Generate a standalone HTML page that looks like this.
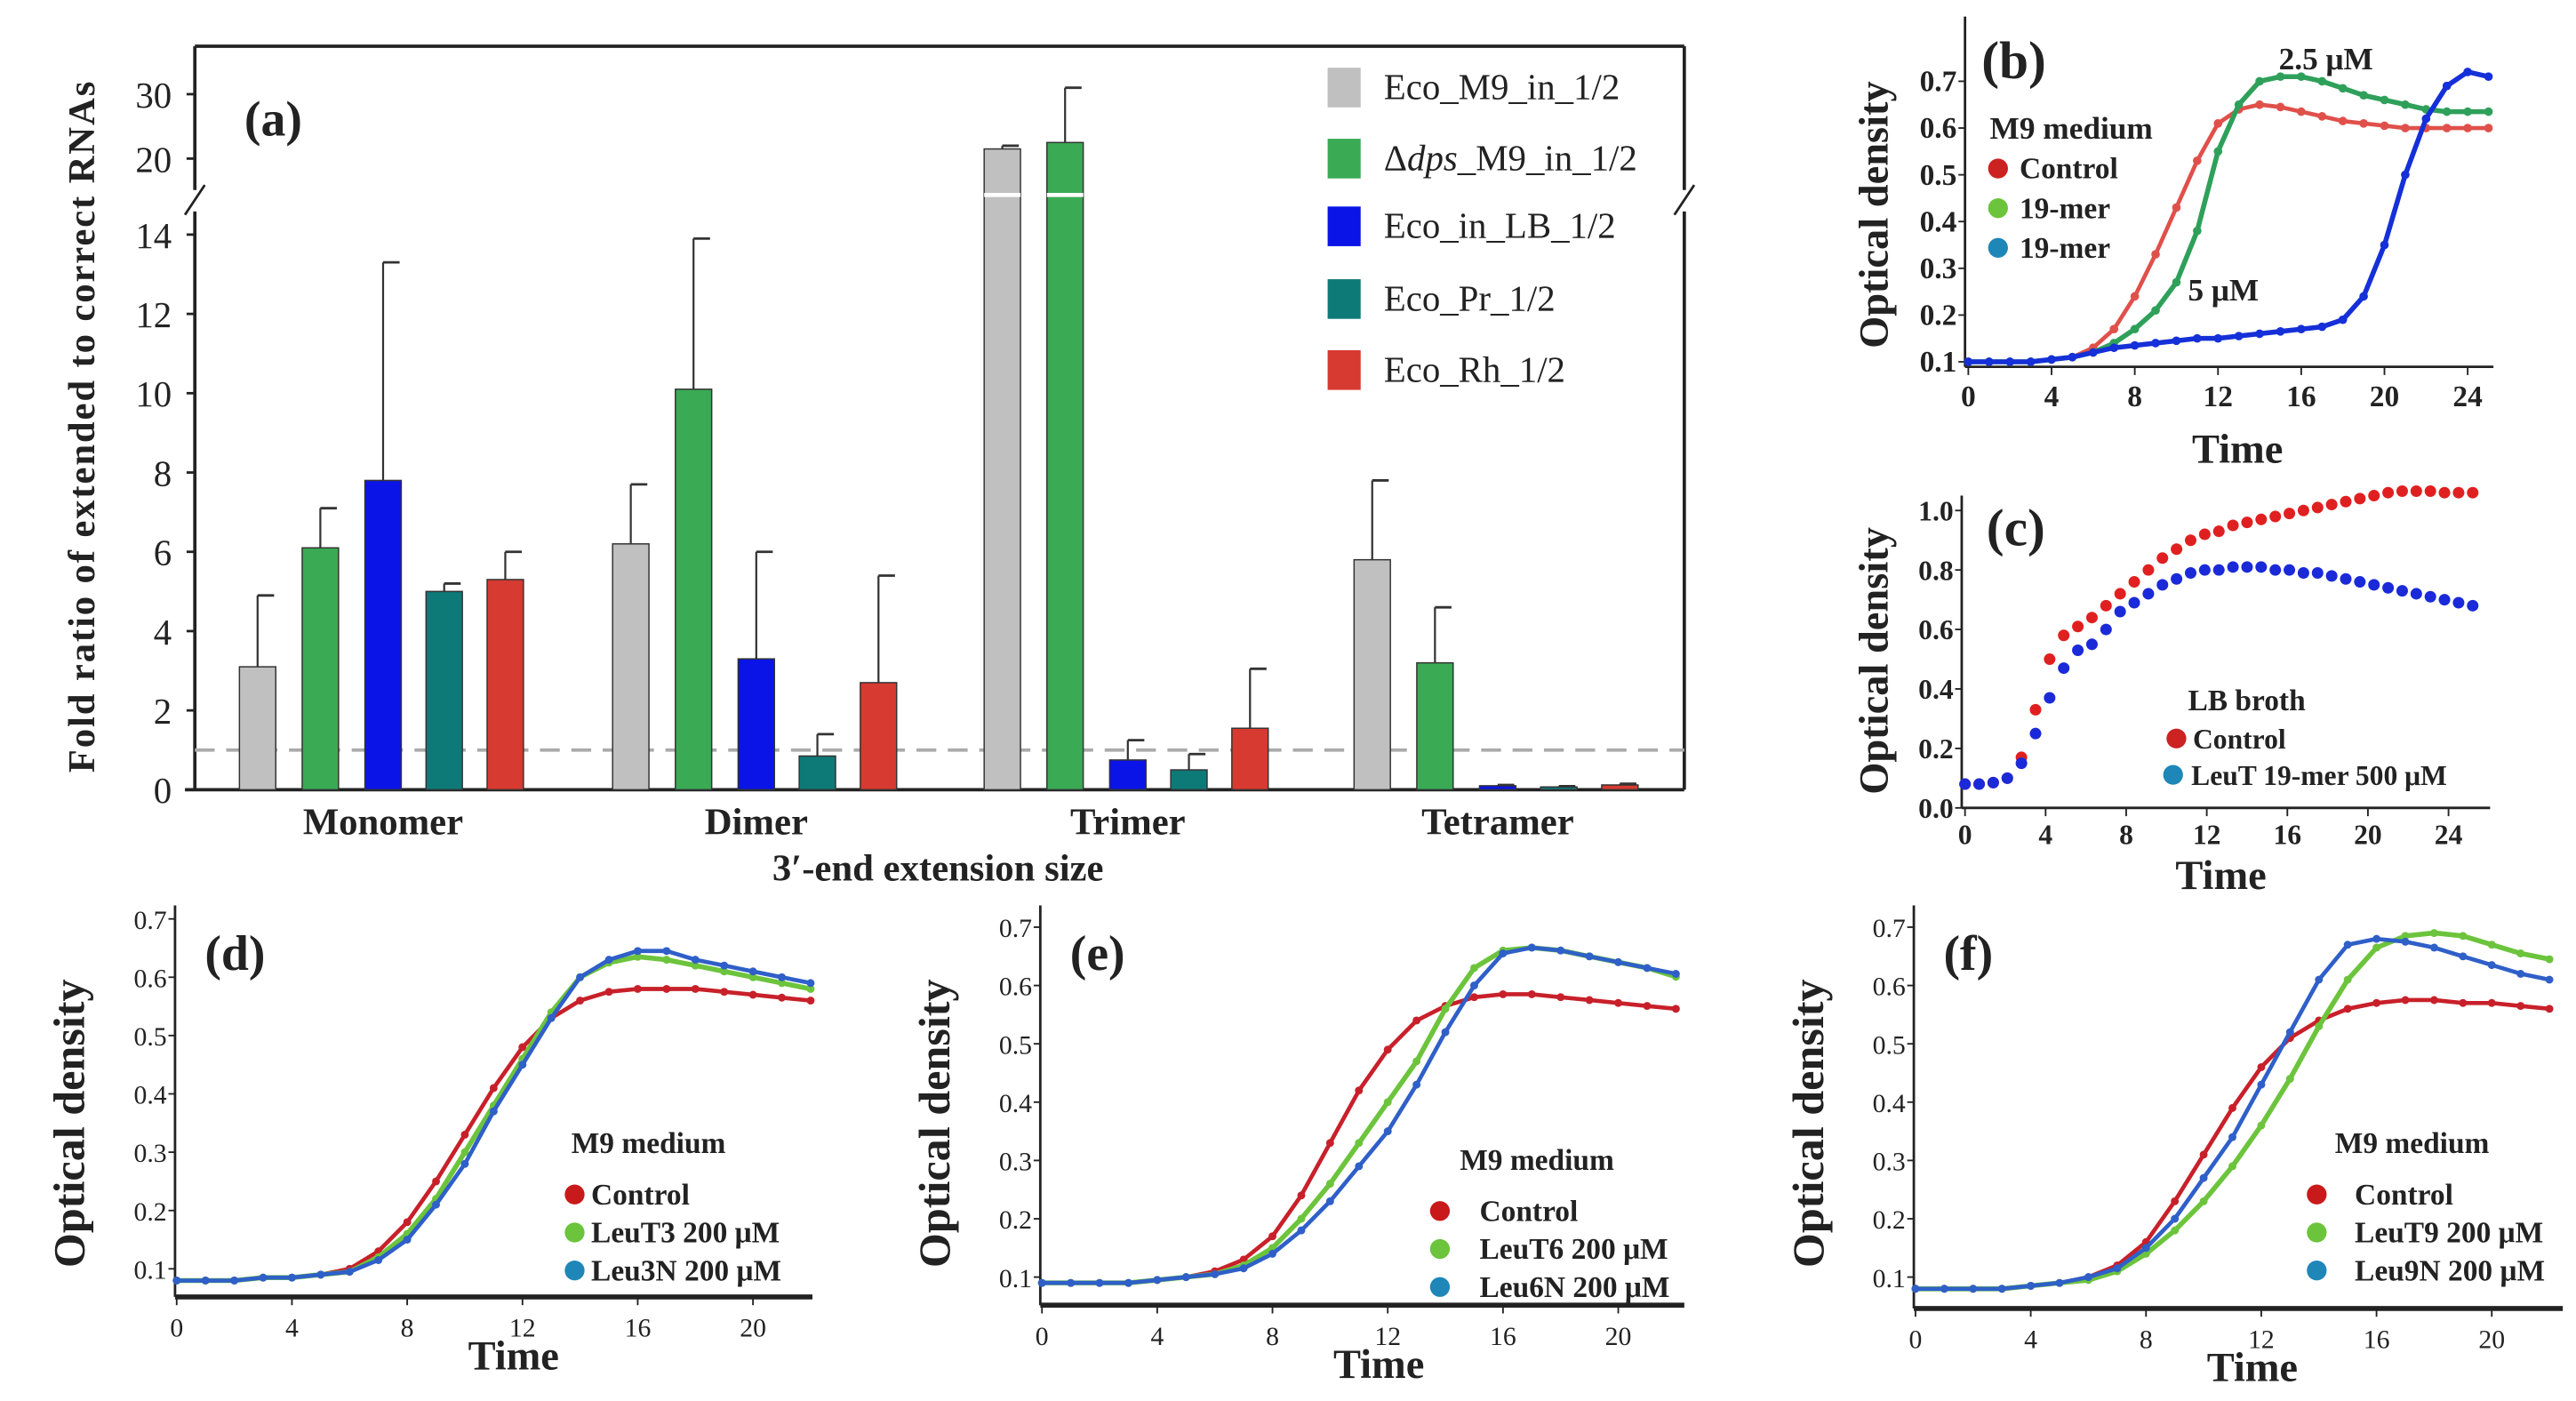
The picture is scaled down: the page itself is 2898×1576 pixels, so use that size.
<!DOCTYPE html>
<html><head><meta charset="utf-8"><style>
html,body{margin:0;padding:0;background:#fff;}
svg{display:block;}
text{font-family:"Liberation Serif",serif;fill:#222;}
</style></head><body>
<svg id="fig" width="2898" height="1576" viewBox="0 0 1560 848" preserveAspectRatio="none" xmlns="http://www.w3.org/2000/svg"></svg>
<script>
// ---------- Panel (a) data ----------
const aCategories = ["Monomer","Dimer","Trimer","Tetramer"];
const aSeriesNames = ["Eco_M9_in_1/2","Δdps_M9_in_1/2","Eco_in_LB_1/2","Eco_Pr_1/2","Eco_Rh_1/2"];
const aValues = [[3.1,6.2,21.5,5.8],[6.1,10.1,22.5,3.2],[7.8,3.3,0.75,0.1],[5.0,0.85,0.5,0.07],[5.3,2.7,1.55,0.12]];
const aErrTop = [[4.9,7.7,22.0,7.8],[7.1,13.9,31.0,4.6],[13.3,6.0,1.25,0.12],[5.2,1.4,0.9,0.09],[6.0,5.4,3.05,0.15]];
const aLowTicks = [0,2,4,6,8,10,12,14];
const aHighTicks = [20,30];
// ---------- Panel (b) data ----------
const bTime = [0,1,2,3,4,5,6,7,8,9,10,11,12,13,14,15,16,17,18,19,20,21,22,23,24,25];
const bControl = [.10,.10,.10,.10,.105,.11,.13,.17,.24,.33,.43,.53,.61,.64,.65,.645,.635,.625,.615,.61,.605,.60,.60,.60,.60,.60];
const bMer25 = [.10,.10,.10,.10,.105,.11,.12,.14,.17,.21,.27,.38,.55,.65,.70,.71,.71,.70,.685,.67,.66,.65,.64,.635,.635,.635];
const bMer5 = [.10,.10,.10,.10,.105,.11,.12,.13,.135,.14,.145,.15,.15,.155,.16,.165,.17,.175,.19,.24,.35,.50,.62,.69,.72,.71];
const bXTicks = [0,4,8,12,16,20,24];
const bYTicks = [0.1,0.2,0.3,0.4,0.5,0.6,0.7];
// ---------- Panel (c) data ----------
const cTime = [0,0.7,1.4,2.1,2.8,3.5,4.2,4.9,5.6,6.3,7,7.7,8.4,9.1,9.8,10.5,11.2,11.9,12.6,13.3,14,14.7,15.4,16.1,16.8,17.5,18.2,18.9,19.6,20.3,21,21.7,22.4,23.1,23.8,24.5,25.2];
const cControl = [.08,.08,.085,.10,.17,.33,.50,.58,.61,.64,.68,.72,.76,.80,.84,.87,.90,.92,.93,.95,.96,.97,.98,.99,1.0,1.01,1.02,1.03,1.04,1.05,1.06,1.065,1.065,1.065,1.06,1.06,1.06];
const cLeuT = [.08,.08,.085,.10,.15,.25,.37,.47,.53,.55,.60,.66,.69,.72,.75,.77,.79,.80,.80,.81,.81,.81,.80,.80,.79,.79,.78,.77,.76,.75,.74,.73,.72,.71,.70,.69,.68];
const cXTicks = [0,4,8,12,16,20,24];
const cYTicks = [0.0,0.2,0.4,0.6,0.8,1.0];
// ---------- Panels (d)(e)(f) data ----------
const dTime = [0,1,2,3,4,5,6,7,8,9,10,11,12,13,14,15,16,17,18,19,20,21,22];
const dControl = [.08,.08,.08,.085,.085,.09,.10,.13,.18,.25,.33,.41,.48,.53,.56,.575,.58,.58,.58,.575,.57,.565,.56];
const dLeuT3 = [.08,.08,.08,.085,.085,.09,.095,.12,.16,.22,.30,.38,.46,.54,.60,.625,.635,.63,.62,.61,.60,.59,.58];
const dLeu3N = [.08,.08,.08,.085,.085,.09,.095,.115,.15,.21,.28,.37,.45,.53,.60,.63,.645,.645,.63,.62,.61,.60,.59];
const eControl = [.09,.09,.09,.09,.095,.10,.11,.13,.17,.24,.33,.42,.49,.54,.565,.58,.585,.585,.58,.575,.57,.565,.56];
const eLeuT6 = [.09,.09,.09,.09,.095,.10,.105,.12,.15,.20,.26,.33,.40,.47,.56,.63,.66,.665,.66,.65,.64,.63,.615];
const eLeu6N = [.09,.09,.09,.09,.095,.10,.105,.115,.14,.18,.23,.29,.35,.43,.52,.60,.655,.665,.66,.65,.64,.63,.62];
const fControl = [.08,.08,.08,.08,.085,.09,.10,.12,.16,.23,.31,.39,.46,.51,.54,.56,.57,.575,.575,.57,.57,.565,.56];
const fLeuT9 = [.08,.08,.08,.08,.085,.09,.095,.11,.14,.18,.23,.29,.36,.44,.53,.61,.665,.685,.69,.685,.67,.655,.645];
const fLeu9N = [.08,.08,.08,.08,.085,.09,.10,.115,.15,.20,.27,.34,.43,.52,.61,.67,.68,.675,.665,.65,.635,.62,.61];
const defXTicks = [0,4,8,12,16,20];
const defYTicks = [0.1,0.2,0.3,0.4,0.5,0.6,0.7];

const NS = "http://www.w3.org/2000/svg";
const svg = document.getElementById("fig");
function mk(tag, attrs, parent){ const e=document.createElementNS(NS,tag); for(const k in attrs) e.setAttribute(k,attrs[k]); (parent||svg).appendChild(e); return e; }
function txt(s, x, y, size, opts, parent){ opts=opts||{}; const t=mk("text",{x:x,y:y,"font-size":size,"font-weight":opts.w||"bold","text-anchor":opts.a||"start"},parent); if(opts.rot) t.setAttribute("transform","rotate(-90 "+x+" "+y+")"); if(opts.fill) t.setAttribute("fill",opts.fill); if(opts.style) t.setAttribute("font-style",opts.style); t.textContent=s; return t; }

// ================= Panel (a) =================
const gA = mk("g",{});


const aColors = ["#c0c0c0","#3aaa55","#0a14e6","#0e7a78","#d63a30"];
const aGroupCenters = [232,458,683,907];
const aOffsets = [-76,-38,0,37,74];
function yA(v){ return v<=15 ? 478 - v*24 : 96 - (v-20)*3.9; }
// frame
mk("line",{x1:118,y1:28,x2:1020,y2:28,stroke:"#222","stroke-width":2},gA);
mk("line",{x1:1020,y1:28,x2:1020,y2:115,stroke:"#222","stroke-width":2},gA);
mk("line",{x1:1020,y1:128,x2:1020,y2:478,stroke:"#222","stroke-width":2},gA);
mk("line",{x1:118,y1:28,x2:118,y2:115,stroke:"#222","stroke-width":2},gA);
mk("line",{x1:118,y1:128,x2:118,y2:478,stroke:"#222","stroke-width":2},gA);
mk("line",{x1:112,y1:478,x2:1020,y2:478,stroke:"#222","stroke-width":2},gA);
mk("line",{x1:112,y1:130,x2:124,y2:112,stroke:"#222","stroke-width":1.5},gA);
mk("line",{x1:1014,y1:130,x2:1026,y2:112,stroke:"#222","stroke-width":1.5},gA);
aLowTicks.forEach(v=>{ mk("line",{x1:113,y1:yA(v),x2:118,y2:yA(v),stroke:"#222","stroke-width":1.5},gA); const t=txt(String(v),104,yA(v)+8,22,{a:"end",w:"normal"},gA);   });
aHighTicks.forEach(v=>{ mk("line",{x1:113,y1:yA(v),x2:118,y2:yA(v),stroke:"#222","stroke-width":1.5},gA); const t=txt(String(v),104,yA(v)+8,22,{a:"end",w:"normal"},gA);   });
// dashed reference
const dl = mk("line",{x1:118,y1:yA(1),x2:1020,y2:yA(1),stroke:"#aaa","stroke-width":2,"stroke-dasharray":"12 7"},gA);


// bars
aSeriesNames.forEach((name,si)=>{
  aCategories.forEach((cat,ci)=>{
    const cx = aGroupCenters[ci]+aOffsets[si];
    const v = aValues[si][ci], e = aErrTop[si][ci];
    const et = mk("line",{x1:cx,y1:yA(v),x2:cx,y2:yA(e),stroke:"#333","stroke-width":1.2},gA);
    
    
    mk("line",{x1:cx,y1:yA(e),x2:cx+10,y2:yA(e),stroke:"#333","stroke-width":1.5},gA);
    const r = mk("rect",{x:cx-11,y:yA(v),width:22,height:478-yA(v),fill:aColors[si],stroke:"#333","stroke-width":0.8},gA);
    
    
    if(v>15){ mk("line",{x1:cx-11,y1:118,x2:cx+11,y2:118,stroke:"#fff","stroke-width":2.5},gA); }
  });
});
aCategories.forEach((c,ci)=>{ const t=txt(c,aGroupCenters[ci],505,23,{a:"middle"},gA);   });
let t0=txt("3′-end extension size",568,533,23,{a:"middle"},gA);  
t0=txt("Fold ratio of extended to correct RNAs",57,258,23,{a:"middle",rot:true},gA);   t0.setAttribute('letter-spacing','1');
t0=txt("(a)",148,82,30,{},gA);  
const legY=[53,96,137,181,224];
aSeriesNames.forEach((n,i)=>{
  const g=mk("g",{},gA);
  
  
  mk("rect",{x:804,y:legY[i]-12,width:20,height:24,fill:aColors[i]},g);
  if(i===1){ const t=mk("text",{x:838,y:legY[i]+7,"font-size":22,"font-weight":"normal"},g); const s1=mk("tspan",{},t); s1.textContent="Δ"; const s2=mk("tspan",{"font-style":"italic"},t); s2.textContent="dps"; const s3=mk("tspan",{},t); s3.textContent="_M9_in_1/2"; }
  else txt(n,838,legY[i]+7,22,{w:"normal"},g);
});

// ================= generic line panel =================
function linePanel(cfg){
  const g=mk("g",{});
  
  
  const X=t=>cfg.x0+(t-cfg.t0)*cfg.px;
  const Y=v=>cfg.y0-(v-cfg.v0)*cfg.py;
  mk("line",{x1:cfg.ax,y1:cfg.top,x2:cfg.ax,y2:cfg.bottom,stroke:"#222","stroke-width":1.5},g);
  mk("line",{x1:cfg.ax,y1:cfg.bottom,x2:cfg.right,y2:cfg.bottom,stroke:"#222","stroke-width":cfg.bw||1.5},g);
  cfg.xticks.forEach(v=>{ mk("line",{x1:X(v),y1:cfg.bottom,x2:X(v),y2:cfg.bottom+5,stroke:"#222","stroke-width":1},g); const t=txt(String(v),X(v),cfg.bottom+cfg.xtOff,cfg.tf,{a:"middle",w:cfg.tw||"bold"},g);   });
  cfg.yticks.forEach(v=>{ mk("line",{x1:cfg.ax-4,y1:Y(v),x2:cfg.ax,y2:Y(v),stroke:"#222","stroke-width":1},g); const t=txt(v.toFixed(1),cfg.ax-5,Y(v)+6,cfg.tf,{a:"end",w:cfg.tw||"bold"},g);   });
  cfg.series.forEach(s=>{
    const sg=mk("g",{},g);
    
    
    let d=""; s.t.forEach((t,i)=>{ d+=(i?"L":"M")+X(t).toFixed(1)+" "+Y(s.v[i]).toFixed(1); });
    if(s.line!==false) mk("path",{d:d,fill:"none",stroke:s.color,"stroke-width":s.lw||3},sg);
    s.t.forEach((t,i)=>{ const c=mk("circle",{cx:X(t),cy:Y(s.v[i]),r:s.r||2.6,fill:s.color},sg);   });
  });
  let tt=txt("Time",cfg.timeX,cfg.timeY,cfg.tlf||25,{a:"middle"},g);  
  tt=txt("Optical density",cfg.ylX,cfg.ylY,cfg.ylf||25,{a:"middle",rot:true},g);  
  tt=txt(cfg.plabel,cfg.plX,cfg.plY,cfg.plf||30,{},g);  
  (cfg.legend||[]).forEach(l=>{
    const lg=mk("g",{},g);
    
    
    if(l.color) mk("circle",{cx:l.cx,cy:l.y-6,r:6,fill:l.color},lg);
    txt(l.text,l.x,l.y,l.size||18,{},lg);
  });
  (cfg.notes||[]).forEach(n=>{ const t=txt(n.text,n.x,n.y,n.size||19,{},g);   });
}
const RED="#d0202a", GRN="#3daa4a", BLU="#1530d8", LGRN="#6cc43c", TEAL="#1f86b8";

linePanel({name:"panel-b-growth",x0:1192,t0:0,px:12.6,y0:219,v0:0.1,py:283,ax:1190,top:10,bottom:222,right:1510,xticks:bXTicks,yticks:bYTicks,xtOff:24,tf:18,
  series:[{label:"control",t:bTime,v:bControl,color:"#e0504a",lw:2.5},{label:"19mer-2.5uM",t:bTime,v:bMer25,color:"#2fa05a"},{label:"19mer-5uM",t:bTime,v:bMer5,color:BLU}],
  timeX:1355,timeY:280,ylX:1143,ylY:130,plabel:"(b)",plX:1200,plY:47,plf:32,
  legend:[{text:"M9 medium",x:1205,y:84,size:19},{text:"Control",x:1223,y:108,cx:1210,color:"#cc2222"},{text:"19-mer",x:1223,y:132,cx:1210,color:LGRN},{text:"19-mer",x:1223,y:156,cx:1210,color:TEAL}],
  notes:[{text:"2.5 μM",x:1380,y:42},{text:"5 μM",x:1325,y:182}]});

linePanel({name:"panel-c-growth",x0:1190,t0:0,px:12.2,y0:489,v0:0,py:180,ax:1188,top:300,bottom:489,right:1508,xticks:cXTicks,yticks:cYTicks,xtOff:22,tf:17,
  series:[{label:"control",t:cTime,v:cControl,color:"#e02020",line:false,r:3.5},{label:"leuT-19mer",t:cTime,v:cLeuT,color:"#1a2ad8",line:false,r:3.5}],
  timeX:1345,timeY:538,ylX:1143,ylY:400,plabel:"(c)",plX:1203,plY:330,plf:32,
  legend:[{text:"LB broth",x:1325,y:430,size:18},{text:"Control",x:1328,y:453,cx:1318,color:"#cc2222",size:17},{text:"LeuT 19-mer 500 μM",x:1327,y:475,cx:1316,color:TEAL,size:17}]});

function defPanel(name,ax,yb,ybot,right,ser,plabel,leg,lx,ly,cx){
  linePanel({name:name,x0:ax+1,t0:0,px:17.45,y0:yb,v0:0.1,py:353,ax:ax,top:548,bottom:ybot,right:right,bw:3,xticks:defXTicks,yticks:defYTicks,xtOff:24,tf:16,tw:"normal",
    series:[{label:"control",t:dTime,v:ser[0],color:"#c8202a",lw:2.5,r:2.4},{label:"leuT",t:dTime,v:ser[1],color:LGRN,lw:3,r:2.4},{label:"leuN",t:dTime,v:ser[2],color:"#2f5fc8",lw:2.5,r:2.4}],
    timeX:ax+205,timeY:ybot+44,ylX:ax-55,ylY:680,ylf:27,plabel:plabel,plX:ax+18,plY:587,plf:30,
    legend:[{text:"M9 medium",x:lx+2,y:ly,size:18},{text:"Control",x:lx+14,y:ly+31,cx:cx,color:"#c81a1a"},{text:leg[0],x:lx+14,y:ly+54,cx:cx,color:LGRN},{text:leg[1],x:lx+14,y:ly+77,cx:cx,color:TEAL}]});
}
defPanel("panel-d-growth",106,768,785,492,[dControl,dLeuT3,dLeu3N],"(d)",["LeuT3 200 μM","Leu3N 200 μM"],344,698,348);
defPanel("panel-e-growth",630,773,790,1020,[eControl,eLeuT6,eLeu6N],"(e)",["LeuT6 200 μM","Leu6N 200 μM"],882,708,872);
defPanel("panel-f-growth",1159,773,792,1552,[fControl,fLeuT9,fLeu9N],"(f)",["LeuT9 200 μM","Leu9N 200 μM"],1412,698,1403);
</script>
</body></html>
